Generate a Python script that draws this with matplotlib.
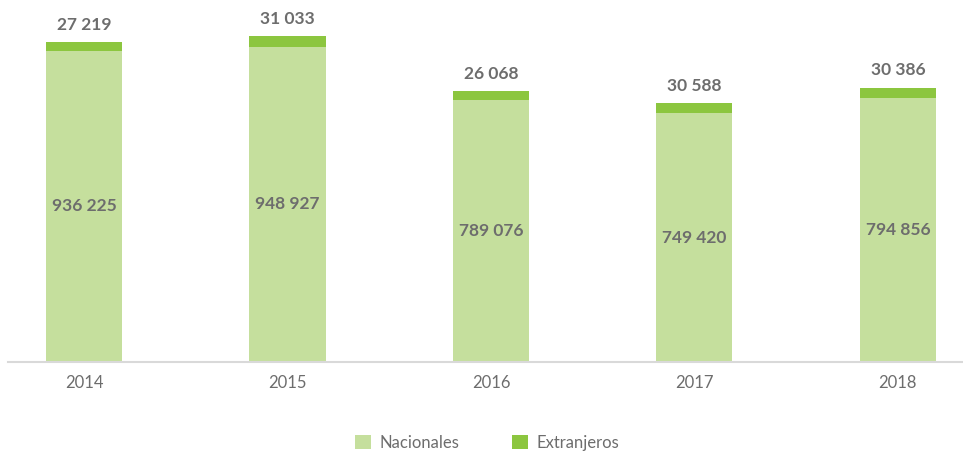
import matplotlib
matplotlib.use("Agg")
import matplotlib.pyplot as plt
import numpy as np

years = ["2014", "2015", "2016", "2017", "2018"]
nacionales = [936225, 948927, 789076, 749420, 794856]
extranjeros = [27219, 31033, 26068, 30588, 30386]

plt.rcParams['font.family'] = ['Lato', 'DejaVu Sans']

c_nac = "#c5df9d"
c_ext = "#8cc63f"
c_txt = "#6d6d6d"

def fmt(v):
    return f"{v:,}".replace(",", " ")

fig = plt.figure(figsize=(9.63, 4.58), dpi=100)
ax = fig.add_axes([8/963, 96/458, 955/963, 362/458])

x = np.arange(len(years))
w = 0.374
ax.bar(x, nacionales, width=w, color=c_nac, label="Nacionales")
ax.bar(x, extranjeros, width=w, bottom=nacionales, color=c_ext, label="Extranjeros")

for xi, n, e in zip(x, nacionales, extranjeros):
    ax.text(xi, n / 2, fmt(n), ha="center", va="center", fontsize=12.5,
            fontweight="bold", color=c_txt)
    ax.annotate(fmt(e), (xi, n + e), xytext=(0, 12.5), textcoords="offset points",
                ha="center", va="center", fontsize=12.5, fontweight="bold", color=c_txt)

ax.set_xlim(-0.374, 4.32)
ax.set_ylim(0, 1089700)
ax.set_xticks(x)
ax.set_xticklabels(years, fontsize=12, color=c_txt)
ax.tick_params(axis="x", length=0, pad=9)
ax.set_yticks([])
for s in ["top", "right", "left"]:
    ax.spines[s].set_visible(False)
ax.spines["bottom"].set_color("#d9d9d9")
ax.spines["bottom"].set_linewidth(1.5)

fig.legend(loc="center", bbox_to_anchor=(487/963, 1 - 443/458), ncol=2,
           frameon=False, fontsize=12, labelcolor=c_txt, handlelength=0.95,
           handleheight=0.95, columnspacing=3.2, handletextpad=0.5)

fig.savefig("out.png", dpi=100)
